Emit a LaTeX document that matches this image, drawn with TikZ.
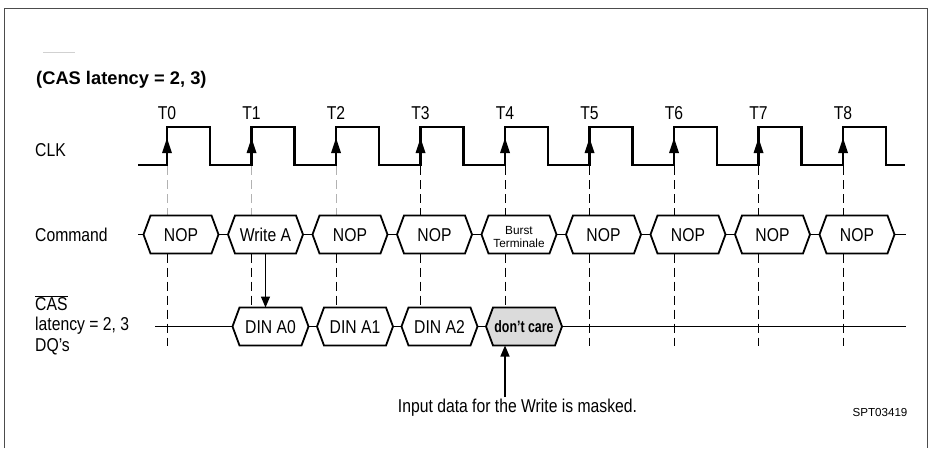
\documentclass[tikz,border=0pt]{standalone}
\usepackage{fontspec}
\setmainfont[FakeStretch=0.845]{Liberation Sans}
\newfontfamily\plainsans{Liberation Sans}
\usetikzlibrary{arrows.meta,calc}
\newcommand{\hexbox}[7]{%
  \draw[hexline,#6] (#2,#3) -- ++(7,-19) -- ++({#4-14},0) -- ++(7,19) -- ++(-7,19) -- ++({14-#4},0) -- cycle;
  \node[lbl,anchor=base,#7] (#1) at ({#2+#4/2},{#3+6.65}) {#5};
  \coordinate (#1-l) at (#2,#3);
  \coordinate (#1-r) at ({#2+#4},#3);
  \coordinate (#1-t) at ({#2+#4/2},{#3-19});
  \coordinate (#1-b) at ({#2+#4/2},{#3+19});
}
\begin{document}
\begin{tikzpicture}[x=1pt,y=-1pt,
  lbl/.style={inner sep=0pt, align=center, font=\fontsize{18.6}{21}\selectfont},
  small/.style={font=\plainsans\fontsize{11.8}{13}\selectfont},
  hexline/.style={line width=1.8pt, line join=miter},
  wire/.style={line width=1.8pt},
  clk/.style={line width=2.4pt, line join=miter},
  guide/.style={line width=0.7pt, dash pattern=on 9pt off 5pt},
  faintguide/.style={guide, draw=black!30},
  arr/.style={line width=1.4pt, -{Triangle[length=11pt,width=9pt]}},
]
\useasboundingbox (0,0) rectangle (930,448);
% frame
\draw[line width=0.8pt, black!70] (4,448) -- (4,8) -- (927,8) -- (927,448);
% title
\draw[black!18, line width=0.6pt] (43,52) -- (75,52);
\node[inner sep=0pt, anchor=west, font=\plainsans\bfseries\fontsize{18.3}{20}\selectfont] (title) at (36,80) {(CAS latency = 2, 3)};
% row labels
\node[lbl, anchor=west] (clkl) at (35,150) {CLK};
\node[lbl, anchor=west] (cmdl) at (35,235) {Command};
\node[lbl, anchor=west, align=left, font=\fontsize{18.6}{20.5}\selectfont] (casl) at (35,325) {$\overline{\mbox{CAS}}$\\latency = 2, 3\\DQ’s};
% guides
\foreach \i in {0,...,8}{
  \pgfmathsetmacro\ex{167+84.5*\i}
  \ifnum\i<3
    \draw[faintguide] (\ex,166) -- (\ex,215.5);
  \else
    \draw[guide] (\ex,166) -- (\ex,215.5);
  \fi
}
\foreach \i in {0,5,6,7,8}{
  \pgfmathsetmacro\ex{167+84.5*\i}
  \draw[guide] (\ex,253.5) -- (\ex,346);
}
\foreach \i in {1,2,3,4}{
  \pgfmathsetmacro\ex{167+84.5*\i}
  \draw[guide] (\ex,253.5) -- (\ex,307.5);
}
% clock
\draw[clk] (138,165) \foreach \i in {0,...,8}{ -- ({167+84.5*\i},165) -- ({167+84.5*\i},127) -- ({210+84.5*\i},127) -- ({210+84.5*\i},165)} -- (905,165);
\foreach \i in {0,...,8}{
  \fill ({167+84.5*\i-5},153) -- ({167+84.5*\i},138) -- ({167+84.5*\i+5},153) -- cycle;
  \node[lbl] (t\i) at ({167+84.5*\i},113) {T\i};
}
% command row
\hexbox{c0}{143.5}{234.5}{75}{NOP}{}{}
\hexbox{c1}{228}{234.5}{75}{Write A}{}{}
\hexbox{c2}{312.5}{234.5}{75}{NOP}{}{}
\hexbox{c3}{397}{234.5}{75}{NOP}{}{}
\hexbox{c4}{481.5}{234.5}{75}{Burst\\Terminale}{}{small, anchor=center, yshift=4.65pt}
\hexbox{c5}{566}{234.5}{75}{NOP}{}{}
\hexbox{c6}{650.5}{234.5}{75}{NOP}{}{}
\hexbox{c7}{735}{234.5}{75}{NOP}{}{}
\hexbox{c8}{819.5}{234.5}{75}{NOP}{}{}
\coordinate (cstart) at (138,234.5);
\coordinate (cend) at (906,234.5);
\draw[wire] (cstart) -- (c0-l);
\draw[wire] (c0-r) -- (c1-l);
\draw[wire] (c1-r) -- (c2-l);
\draw[wire] (c2-r) -- (c3-l);
\draw[wire] (c3-r) -- (c4-l);
\draw[wire] (c4-r) -- (c5-l);
\draw[wire] (c5-r) -- (c6-l);
\draw[wire] (c6-r) -- (c7-l);
\draw[wire] (c7-r) -- (c8-l);
\draw[wire] (c8-r) -- (cend);
% DQ row
\hexbox{d0}{232.5}{326.5}{76}{DIN A0}{}{}
\hexbox{d1}{317}{326.5}{76}{DIN A1}{}{}
\hexbox{d2}{401.5}{326.5}{76}{DIN A2}{}{}
\hexbox{d3}{486}{326.5}{76}{\scalebox{0.75}[1]{\plainsans\bfseries\fontsize{16.5}{18}\selectfont don’t care}}{fill=black!14}{yshift=0.8pt}
\coordinate (dstart) at (155,326.5);
\coordinate (dend) at (906,326.5);
\draw[wire] (dstart) -- (d0-l);
\draw[wire] (d0-r) -- (d1-l);
\draw[wire] (d1-r) -- (d2-l);
\draw[wire] (d2-r) -- (d3-l);
\draw[wire] (d3-r) -- (dend);
% arrows
\draw[arr] (c1-b) -- (c1-b |- d0-t);
\node[lbl] (mask) at (517.5,408) {Input data for the Write is masked.};
\draw[arr] ($(t4 |- mask.north)+(0,-2)$) -- (t4 |- d3-b);
\node[inner sep=0pt, font=\plainsans\fontsize{11.6}{13}\selectfont] (spt) at (880,412) {SPT03419};
\end{tikzpicture}
\end{document}
